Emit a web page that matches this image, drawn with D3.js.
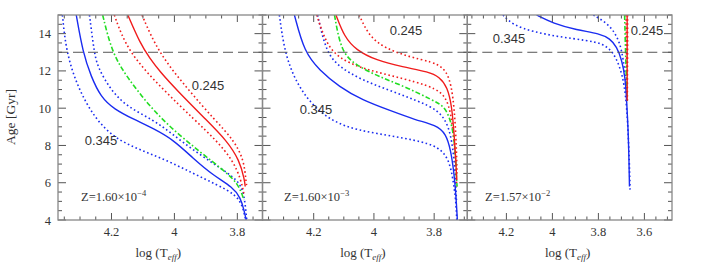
<!DOCTYPE html>
<html>
<head>
<meta charset="utf-8">
<script src="https://d3js.org/d3.v7.min.js"></script>
<style>
  body { margin: 0; background: #fff; }
  text { font-family: "Liberation Serif", "DejaVu Serif", serif; fill: #333; }
</style>
</head>
<body>
<svg id="vis"></svg>
<script>
// ---- data: [log Teff, age Gyr] ----
// panel 1, Z = 1.60e-4
const p1BlueLo = [[4.356,15],[4.344,13],[4.307,11.1],[4.255,9.5],[4.192,8.4],[4.108,7.75],[4.024,7.2],[3.940,6.5],[3.866,5.9],[3.803,5.35],[3.782,4.7],[3.774,4.0]]
const p1Blue   = [[4.312,15],[4.291,13],[4.265,11.7],[4.234,10.6],[4.192,9.95],[4.129,9.4],[4.066,8.9],[4.003,8.3],[3.940,7.3],[3.877,6.4],[3.814,5.75],[3.790,5.2],[3.778,4.5],[3.772,4.0]]
const p1BlueHi = [[4.270,15],[4.255,13],[4.244,12.2],[4.202,10.96],[4.150,10.07],[4.066,9.36],[4.009,8.64],[3.940,7.75],[3.861,6.86],[3.797,6.14],[3.778,5.43],[3.770,4.0]]
const p1Green  = [[4.228,15],[4.199,13],[4.152,11.69],[4.078,10.08],[4.004,8.83],[3.919,7.66],[3.845,6.68],[3.797,5.97],[3.779,5.07]]
const p1RedLo  = [[4.191,15],[4.148,13],[4.036,11],[3.935,9.36],[3.868,8.29],[3.814,7.21],[3.788,6.14],[3.779,5.4]]
const p1Red    = [[4.148,15],[4.109,13.48],[4.078,12.67],[4.046,11.96],[3.993,10.98],[3.898,9.36],[3.835,8.29],[3.793,7.21],[3.777,6.14],[3.775,5.8]]
const p1RedHi  = [[4.103,15],[4.052,13],[3.957,11],[3.871,9.36],[3.811,8.29],[3.779,7.21],[3.773,6.14],[3.770,5.8]]

// panel 2, Z = 1.60e-3
const p2BlueLo = [[4.314,15],[4.297,13],[4.258,11.32],[4.192,9.89],[4.104,9.0],[3.993,8.64],[3.861,8.29],[3.783,7.93],[3.750,7.21],[3.737,6.14],[3.728,5.07],[3.725,4.0]]
const p2Blue   = [[4.264,15],[4.231,13],[4.181,12.04],[4.115,11.14],[4.038,10.43],[3.949,9.89],[3.861,9.36],[3.794,9.09],[3.761,8.64],[3.745,7.75],[3.734,6.5],[3.728,5.43],[3.723,4.0]]
const p2BlueHi = [[4.187,15],[4.159,13],[4.115,12.2],[4.038,11.5],[3.949,10.96],[3.861,10.43],[3.783,9.89],[3.750,9.0],[3.737,7.75],[3.730,6.5],[3.726,5.07]]
const p2Green  = [[4.131,15],[4.109,13],[4.059,12.3],[3.982,11.68],[3.894,11.14],[3.806,10.43],[3.761,10.07],[3.739,9.0],[3.730,7.75],[3.726,6.3],[3.724,5.8]]
const p2RedLo  = [[4.190,15],[4.159,13.46],[4.115,12.66],[4.038,12.13],[3.949,11.77],[3.861,11.41],[3.794,11.05],[3.761,10.6],[3.744,9.71],[3.734,8.29],[3.728,6.86],[3.725,5.8]]
const p2Red    = [[4.126,15],[4.098,13.82],[4.059,13.12],[3.993,12.57],[3.905,12.21],[3.817,11.95],[3.783,11.68],[3.756,11.14],[3.741,10.07],[3.734,8.64],[3.728,7.2],[3.725,6.14]]
const p2RedHi  = [[4.049,15],[4.015,13.82],[3.960,13.2],[3.883,12.75],[3.806,12.48],[3.772,12.2],[3.750,11.68],[3.737,10.6],[3.730,9.18],[3.726,7.75],[3.724,6.5]]

// panel 3, Z = 1.57e-2
const p3BlueLo = [[4.215,15],[4.171,14.46],[4.084,14.1],[3.968,13.82],[3.851,13.64],[3.779,13.46],[3.735,13.0],[3.706,12.2],[3.688,11.32],[3.676,10.0],[3.668,8.0],[3.664,6.5],[3.662,5.5]]
const p3Blue   = [[4.069,15],[3.997,14.55],[3.895,14.2],[3.793,14.0],[3.750,13.73],[3.720,13.3],[3.698,12.57],[3.684,11.68],[3.677,10.43],[3.670,8.64],[3.667,7.2],[3.665,5.8]]
const p3BlueHi = [[3.822,15],[3.779,14.7],[3.735,14.2],[3.706,13.5],[3.691,12.57],[3.681,11.5],[3.677,10.43]]
const p3Green  = [[3.686,15],[3.682,13],[3.678,11.5],[3.676,10.4]]
const p3RedLo  = [[3.680,15],[3.678,13],[3.676,11.5],[3.675,10.4]]
const p3Red    = [[3.675,15],[3.675,13],[3.675,11.5],[3.675,10.4]]
const p3RedHi  = [[3.673,15],[3.673,13],[3.674,11.5],[3.674,10.4]]

const zLabels = [["1.60", "−4"], ["1.60", "−3"], ["1.57", "−2"]]
const yTicks = [4, 6, 8, 10, 12, 14]
const xTicks = [[4.2, 4, 3.8], [4.2, 4, 3.8], [4.2, 4, 3.8, 3.6]]
const heLabels = ["0.245", "0.345"]

// ---- layout ----
const width = 711, height = 275
const plotTop = 15, plotBottom = 220
const frames = [[58, 262.5], [262.5, 467.3], [467.3, 672]]
const xDomains = [[4.37, 3.72], [4.37, 3.69], [4.37, 3.48]]
const labelPos = [
  [[208, 90], [101, 145]],
  [[406, 35], [316, 114]],
  [[647, 35], [509, 43]]
]
const zPos = [81, 284, 485]

const blue = "#1a2cf0", red = "#f01c1c", green = "#22dd22"

const svg = d3.select("#vis").attr("width", width).attr("height", height)
const y = d3.scaleLinear().domain([4, 15]).range([plotBottom, plotTop])

const panels = [
  [p1BlueLo, p1Blue, p1BlueHi, p1Green, p1RedLo, p1Red, p1RedHi],
  [p2BlueLo, p2Blue, p2BlueHi, p2Green, p2RedLo, p2Red, p2RedHi],
  [p3BlueLo, p3Blue, p3BlueHi, p3Green, p3RedLo, p3Red, p3RedHi]
]
const curveStyle = [
  [blue, "1.6,2.6"], [blue, null], [blue, "1.6,2.6"],
  [green, "5,2.2,1.6,2.2"],
  [red, "1.6,2.6"], [red, null], [red, "1.6,2.6"]
]

panels.forEach(function (curves, i) {
  const x = d3.scaleLinear().domain(xDomains[i]).range(frames[i])
  const g = svg.append("g")

  g.append("clipPath").attr("id", "clip" + i)
    .append("rect")
    .attr("x", frames[i][0]).attr("y", plotTop)
    .attr("width", frames[i][1] - frames[i][0]).attr("height", plotBottom - plotTop)

  const line = d3.line()
    .x(d => x(d[0])).y(d => y(d[1]))
    .curve(d3.curveBasis)

  const cg = g.append("g").attr("clip-path", "url(#clip" + i + ")")
  // dotted first, solid on top
  const order = [0, 2, 4, 6, 3, 1, 5]
  order.forEach(function (k) {
    cg.append("path")
      .datum(curves[k])
      .attr("d", line)
      .attr("fill", "none")
      .attr("stroke", curveStyle[k][0])
      .attr("stroke-width", curveStyle[k][1] ? 1.6 : 1.4)
      .attr("stroke-dasharray", curveStyle[k][1])
  })

  // 13 Gyr dashed line
  g.append("line")
    .attr("x1", frames[i][0]).attr("x2", frames[i][1])
    .attr("y1", y(13)).attr("y2", y(13))
    .attr("stroke", "#555").attr("stroke-width", 1)
    .attr("stroke-dasharray", "10,5")

  // ticks on all sides, inward
  const tickCol = "#555"
  const minorX = d3.range(3.45, 4.41, 0.05).map(v => +v.toFixed(2))
    .filter(v => v <= xDomains[i][0] && v >= xDomains[i][1])
  minorX.forEach(function (v) {
    const major = Math.abs(v * 5 - Math.round(v * 5)) < 1e-6
    const len = major ? 7 : 3.5
    g.append("line").attr("x1", x(v)).attr("x2", x(v))
      .attr("y1", plotBottom).attr("y2", plotBottom - len).attr("stroke", tickCol)
    g.append("line").attr("x1", x(v)).attr("x2", x(v))
      .attr("y1", plotTop).attr("y2", plotTop + len).attr("stroke", tickCol)
  })
  d3.range(4, 15.01, 0.5).forEach(function (v) {
    const major = v % 2 === 0
    const len = major ? 8 : 4
    g.append("line").attr("x1", frames[i][0]).attr("x2", frames[i][0] + len)
      .attr("y1", y(v)).attr("y2", y(v)).attr("stroke", tickCol)
    g.append("line").attr("x1", frames[i][1]).attr("x2", frames[i][1] - len)
      .attr("y1", y(v)).attr("y2", y(v)).attr("stroke", tickCol)
  })

  // frame
  g.append("rect")
    .attr("x", frames[i][0]).attr("y", plotTop)
    .attr("width", frames[i][1] - frames[i][0]).attr("height", plotBottom - plotTop)
    .attr("fill", "none").attr("stroke", "#888").attr("stroke-width", 1.3)

  // x tick labels
  g.selectAll(".xl").data(xTicks[i]).enter().append("text")
    .attr("x", d => x(d)).attr("y", 236)
    .attr("text-anchor", "middle").style("font-size", "12.5px")
    .text(d => d3.format("~g")(d))

  // x title
  const xt = g.append("text")
    .attr("x", (frames[i][0] + frames[i][1]) / 2 - 2).attr("y", 257)
    .attr("text-anchor", "middle").style("font-size", "13px")
  xt.append("tspan").text("log (T")
  xt.append("tspan").attr("dy", 3).style("font-size", "9px").style("font-style", "italic").text("eff")
  xt.append("tspan").attr("dy", -3).text(")")

  // helium labels
  heLabels.forEach(function (t, k) {
    g.append("text")
      .attr("x", labelPos[i][k][0]).attr("y", labelPos[i][k][1])
      .attr("text-anchor", "middle").style("font-size", "13px")
      .style("font-family", "'Liberation Sans', Arial, sans-serif")
      .text(t)
  })

  // metallicity label
  const zt = g.append("text").attr("x", zPos[i]).attr("y", 201).style("font-size", "12.5px")
  zt.append("tspan").text("Z=" + zLabels[i][0] + "×10")
  zt.append("tspan").attr("dy", -5).style("font-size", "8.5px").text(zLabels[i][1])
})

// y tick labels
svg.selectAll(".yl").data(yTicks).enter().append("text")
  .attr("x", 51).attr("y", d => y(d) + 4.5)
  .attr("text-anchor", "end").style("font-size", "12.5px")
  .text(d => d)

svg.append("text")
  .attr("transform", "translate(15,117) rotate(-90)")
  .attr("text-anchor", "middle").style("font-size", "13.5px")
  .text("Age [Gyr]")
</script>
</body>
</html>
